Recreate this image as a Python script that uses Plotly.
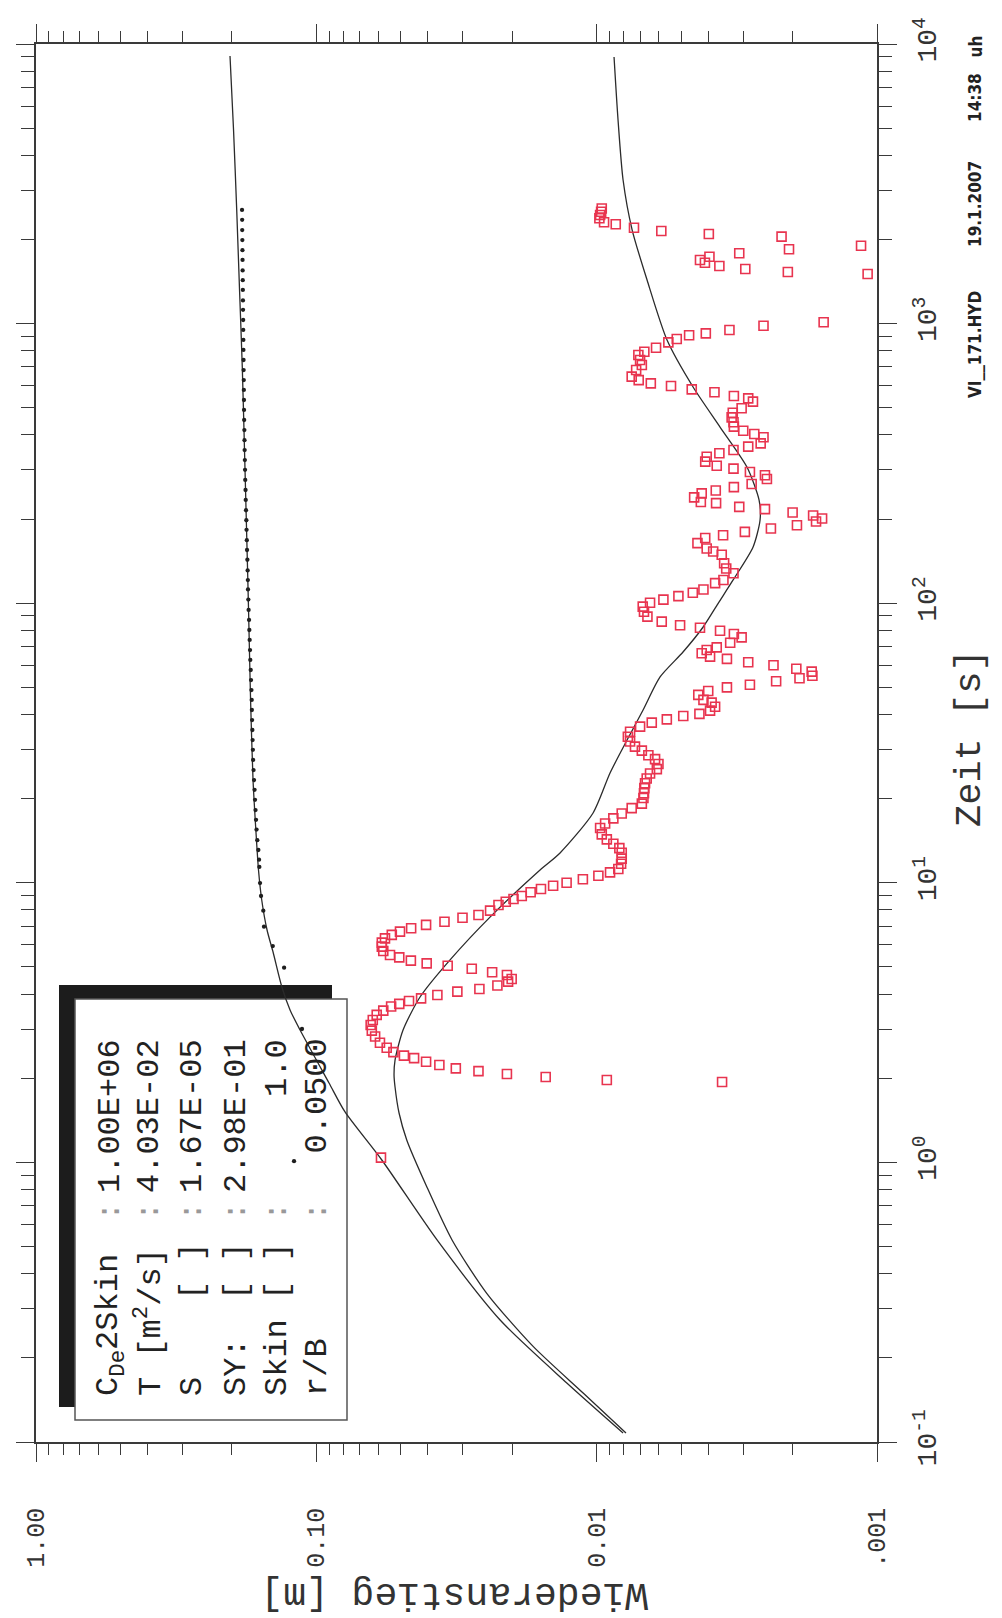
import plotly.graph_objects as go

# ---------------- data ----------------
# red squares: time [s] and Wiederanstieg [m]
red_t = [2581, 2512, 2446, 2381, 2303, 2265, 2203, 2144, 2091, 2046,
         1899, 1844, 1784, 1735, 1688, 1651, 1607, 1568, 1529, 1504,
         1011, 983, 949, 923, 908, 881, 857, 820, 793, 772,
         741, 711, 682, 646, 628, 611, 598, 582, 568, 551,
         540, 526, 498, 480, 462, 444, 428, 414, 403, 392,
         373, 363, 353, 344, 334, 321, 310, 303, 294.5, 287,
         278, 267, 260, 253, 247, 239, 230, 228, 221, 217,
         211, 206, 201, 196, 190, 185, 180, 175, 171, 164,
         157, 153, 149, 139, 133, 128, 121, 118, 112, 109,
         106, 103, 100.4, 97.2, 93.2, 89.5, 85.9, 83.4, 81.7, 79.7,
         77.6, 75.5, 72.2, 69.5, 68.0, 66.2, 64.4, 63.2, 61.5, 60.0,
         58.3, 56.9, 55.0, 53.9, 52.6, 51.1, 50.0, 48.5, 47.0, 45.1,
         44.1, 42.6, 41.3, 40.2, 39.5, 38.4, 37.4, 36.2, 34.7, 33.3,
         32.0, 30.7, 29.7, 28.6, 27.7, 26.6, 25.5, 24.6, 23.6, 22.7,
         21.8, 20.9, 20.1, 19.2, 18.5, 17.7, 17.0, 16.3, 15.7, 14.9,
         14.3, 13.8, 13.3, 12.8, 12.2, 11.7, 11.2, 10.9, 10.6, 10.3,
         10.0, 9.76, 9.50, 9.25, 8.97, 8.75, 8.56, 8.33, 7.95, 7.67,
         7.50, 7.26, 7.07, 6.88, 6.69, 6.51, 6.33, 6.11, 5.91, 5.70,
         5.52, 5.41, 5.27, 5.15, 5.05, 4.93, 4.79, 4.68, 4.53, 4.43,
         4.29, 4.17, 4.08, 3.97, 3.86, 3.78, 3.69, 3.61, 3.49, 3.37,
         3.23, 3.10, 2.96, 2.82, 2.68, 2.57, 2.48, 2.41, 2.36, 2.29,
         2.23, 2.17, 2.12, 2.07, 2.02, 1.97, 1.94, 1.04]
red_v = [0.00959, 0.00964, 0.00972, 0.00978, 0.00941, 0.00855, 0.00736, 0.00588, 0.00398, 0.00219,
         0.00114, 0.00206, 0.00310, 0.00396, 0.00428, 0.00411, 0.00365, 0.00295, 0.00208, 0.00108,
         0.00155, 0.00254, 0.00336, 0.00408, 0.00468, 0.00518, 0.00555, 0.00614, 0.00676, 0.00710,
         0.00700, 0.00690, 0.00723, 0.00750, 0.00708, 0.00641, 0.00543, 0.00458, 0.00380, 0.00324,
         0.00288, 0.00277, 0.00304, 0.00327, 0.00330, 0.00325, 0.00324, 0.00300, 0.00274, 0.00254,
         0.00260, 0.00288, 0.00325, 0.00365, 0.00405, 0.00410, 0.00373, 0.00325, 0.00284, 0.00251,
         0.00247, 0.00280, 0.00324, 0.00376, 0.00422, 0.00449, 0.00425, 0.00375, 0.00310, 0.00251,
         0.00200, 0.00169, 0.00157, 0.00165, 0.00193, 0.00239, 0.00296, 0.00354, 0.00410, 0.00437,
         0.00405, 0.00384, 0.00358, 0.00351, 0.00345, 0.00325, 0.00353, 0.00378, 0.00416, 0.00454,
         0.00511, 0.00578, 0.00645, 0.00685, 0.00678, 0.00659, 0.00586, 0.00504, 0.00428, 0.00363,
         0.00324, 0.00304, 0.00334, 0.00373, 0.00405, 0.00422, 0.00394, 0.00343, 0.00288, 0.00234,
         0.00194, 0.00171, 0.00170, 0.00189, 0.00229, 0.00284, 0.00343, 0.00400, 0.00434, 0.00416,
         0.00389, 0.00378, 0.00394, 0.00430, 0.00491, 0.00562, 0.00636, 0.00700, 0.00760, 0.00774,
         0.00760, 0.00730, 0.00690, 0.00654, 0.00619, 0.00602, 0.00610, 0.00645, 0.00663, 0.00672,
         0.00676, 0.00678, 0.00681, 0.00690, 0.00750, 0.00814, 0.00872, 0.00933, 0.00972, 0.00959,
         0.00920, 0.00872, 0.00830, 0.00814, 0.00814, 0.00818, 0.00837, 0.00896, 0.00986, 0.0112,
         0.0128, 0.0143, 0.0158, 0.0172, 0.0185, 0.0198, 0.0211, 0.0224, 0.0240, 0.0264,
         0.0301, 0.0349, 0.0406, 0.0459, 0.0503, 0.0538, 0.0569, 0.0584, 0.0584, 0.0577,
         0.0546, 0.0506, 0.0460, 0.0404, 0.0340, 0.0279, 0.0236, 0.0209, 0.0201, 0.0207,
         0.0226, 0.0262, 0.0314, 0.0370, 0.0423, 0.0467, 0.0506, 0.0541, 0.0577, 0.0609,
         0.0629, 0.0640, 0.0634, 0.0617, 0.0593, 0.0561, 0.0531, 0.0487, 0.0448, 0.0406,
         0.0364, 0.0318, 0.0264, 0.0209, 0.0152, 0.0092, 0.00357, 0.0588]

# black dots
dot_t = [2550, 2350, 2160, 1990, 1830, 1690, 1550, 1430, 1320, 1210,
         1120, 1030, 949, 874, 805, 741, 682, 628, 579, 533,
         491, 452, 416, 383, 353, 325, 300, 276, 254, 234,
         215, 198, 183, 168, 155, 143, 131, 121, 112, 103,
         94.6, 87.1, 80.2, 73.9, 68.0, 62.7, 57.7, 53.1, 48.9, 45.1,
         41.5, 38.2, 35.2, 32.4, 29.9, 27.5, 25.3, 23.3, 21.5, 19.8,
         18.2, 16.8, 15.5, 14.2, 13.1, 12.1, 11.4, 9.98, 8.97, 7.95,
         6.97, 5.94, 4.97, 3.00, 1.01]
dot_v = [0.1841, 0.1839, 0.1838, 0.1836, 0.1835, 0.1833, 0.1832, 0.1830, 0.1829, 0.1827,
         0.1826, 0.1824, 0.1823, 0.1821, 0.1820, 0.1818, 0.1817, 0.1815, 0.1814, 0.1812,
         0.1811, 0.1809, 0.1806, 0.1804, 0.1802, 0.1799, 0.1796, 0.1793, 0.1789, 0.1786,
         0.1782, 0.1777, 0.1774, 0.1770, 0.1767, 0.1762, 0.1758, 0.1755, 0.1753, 0.1748,
         0.1744, 0.1738, 0.1734, 0.1729, 0.1724, 0.1720, 0.1714, 0.1710, 0.1704, 0.1700,
         0.1698, 0.1695, 0.1691, 0.1688, 0.1684, 0.1681, 0.1675, 0.1668, 0.1661, 0.1655,
         0.1648, 0.1641, 0.1634, 0.1624, 0.1610, 0.1601, 0.1597, 0.1588, 0.1575, 0.1546,
         0.1537, 0.1430, 0.1303, 0.1125, 0.1201]

# fitted curves
curveA_t = [9060, 4925, 2549, 1319, 699, 353, 172.5, 94.6, 45.8, 23.3, 15.07, 11.11, 8.68,
            6.78, 5.61, 4.25, 3.51, 2.975, 1.923, 1.515, 1.02, 0.528, 0.273, 0.1626, 0.1077]
curveA_v = [0.2032, 0.1974, 0.1923, 0.1879, 0.1837, 0.1804, 0.1771, 0.1745, 0.1717, 0.1682, 0.1641,
            0.1608, 0.1566, 0.1499, 0.1424, 0.1328, 0.1241, 0.1143, 0.0901, 0.0790, 0.0584, 0.0371,
            0.0221, 0.01278, 0.00805]
curveB_t = [8984, 5349, 3263, 2161, 1432, 873.6, 593.2, 426.7, 306.9, 233.9, 198.4, 158.9,
            121.1, 99.7, 82.2, 66.9, 54.5, 41.5, 32.4, 24.7, 17.77, 12.79, 11.11, 7.54, 5.30, 3.904,
            2.975, 2.323, 2.054, 1.860, 1.502, 1.203, 0.8187, 0.528, 0.3402, 0.2193, 0.1494, 0.1077]
curveB_v = [0.00867, 0.00839, 0.00805, 0.00747, 0.00661, 0.00561, 0.00453, 0.00363, 0.00291,
            0.002634, 0.002613, 0.002767, 0.00326, 0.00369, 0.00417, 0.00492, 0.00594,
            0.00683, 0.00779, 0.00896, 0.0103, 0.01351, 0.01592, 0.02401, 0.03334, 0.04266,
            0.04905, 0.05239, 0.05282, 0.05239, 0.05069, 0.04759, 0.04037, 0.0328, 0.02467,
            0.01682, 0.01115, 0.00786]

x_tickvals = [1.0, 0.1, 0.01, 0.001]
x_ticktext = ["1.00", "0.10", "0.01", ".001"]
y_tickvals = [0.1, 1, 10, 100, 1000, 10000]
y_ticktext = ["10<sup>-1</sup>", "10<sup>0</sup>", "10<sup>1</sup>",
              "10<sup>2</sup>", "10<sup>3</sup>", "10<sup>4</sup>"]

param_labels = ["C<sub>De</sub>2Skin", "T [m<sup>2</sup>/s]", "S\u00a0\u00a0\u00a0\u00a0[\u00a0]",
                "SY:\u00a0\u00a0[\u00a0]", "Skin\u00a0[\u00a0]", "r/B"]
param_values = ["1.00E+06", "4.03E-02", "1.67E-05", "2.98E-01", "1.0", "0.0500"]

x_minor = [m * 10.0 ** e for e in (-3, -2, -1) for m in range(2, 10)]
y_minor = [m * 10.0 ** e for e in (-1, 0, 1, 2, 3) for m in range(2, 10)]

# ---------------- figure ----------------
W, H = 1002, 1618
L, R, T, B = 36, 877, 44, 1442


def px(x):
    return (x - L) / (R - L)


def py(y):
    return 1 - (y - T) / (B - T)


AX = "#3a3a3a"
MONO = "Liberation Mono, DejaVu Sans Mono, monospace"
RED = "#e8344f"

fig = go.Figure()
fig.add_trace(go.Scatter(x=curveA_v, y=curveA_t, mode="lines",
                         line=dict(color="#2b2b2b", width=1.3, shape="spline", smoothing=0.7),
                         hoverinfo="skip"))
fig.add_trace(go.Scatter(x=curveB_v, y=curveB_t, mode="lines",
                         line=dict(color="#2b2b2b", width=1.3, shape="spline", smoothing=0.7),
                         hoverinfo="skip"))
fig.add_trace(go.Scatter(x=dot_v, y=dot_t, mode="markers",
                         marker=dict(color="#1e1e1e", size=4.3)))
fig.add_trace(go.Scatter(x=red_v, y=red_t, mode="markers",
                         marker=dict(symbol="square-open", color=RED, size=9,
                                     line=dict(color=RED, width=1.6))))

axis_common = dict(type="log", showline=True, linecolor=AX, linewidth=1.5, mirror="ticks",
                   ticks="outside", ticklen=18, tickwidth=1.3, tickcolor=AX,
                   showgrid=False, zeroline=False)

fig.update_xaxes(range=[0, -3], tickvals=x_tickvals, ticktext=x_ticktext, tickangle=-90,
                 tickfont=dict(family=MONO, size=25, color="#333333"), ticklabelstandoff=36,
                 minor=dict(tickvals=x_minor, ticks="outside", ticklen=11, tickwidth=1.2,
                            tickcolor=AX, showgrid=False),
                 **axis_common)
fig.update_yaxes(range=[-1, 4], side="right", tickvals=y_tickvals, ticktext=y_ticktext,
                 tickangle=-90, tickfont=dict(family=MONO, size=28, color="#333333"),
                 ticklabelstandoff=6,
                 minor=dict(tickvals=y_minor, ticks="outside", ticklen=13, tickwidth=1.2,
                            tickcolor=AX, showgrid=False),
                 **axis_common)

shapes = [
    dict(type="rect", xref="paper", yref="paper", x0=px(59), x1=px(332), y0=py(1407), y1=py(985),
         fillcolor="#1c1c1c", line=dict(width=0), layer="below"),
    dict(type="rect", xref="paper", yref="paper", x0=px(75), x1=px(347), y0=py(1420), y1=py(999),
         fillcolor="white", line=dict(color="#555555", width=1.5), layer="below"),
]

ann = []
col_x = [110, 149, 192, 236, 277, 317]
for i, (lab, val) in enumerate(zip(param_labels, param_values)):
    ann.append(dict(text=lab, x=px(col_x[i]), y=py(1398), xref="paper", yref="paper",
                    xanchor="center", yanchor="bottom", textangle=-90, showarrow=False,
                    font=dict(family=MONO, size=32, color="#222222")))
    ann.append(dict(text=":", x=px(col_x[i]), y=py(1212), xref="paper", yref="paper",
                    xanchor="center", yanchor="middle", textangle=-90, showarrow=False,
                    font=dict(family=MONO, size=32, color="#999999")))
    ann.append(dict(text=val, x=px(col_x[i]), y=py(1037), xref="paper", yref="paper",
                    xanchor="center", yanchor="top", textangle=-90, showarrow=False,
                    font=dict(family=MONO, size=32, color="#222222")))

ann.append(dict(text="Zeit [s]", x=px(970), y=py(738), xref="paper", yref="paper",
                xanchor="center", yanchor="middle", textangle=-90, showarrow=False,
                font=dict(family=MONO, size=37, color="#333333")))
ann.append(dict(text="Wiederanstieg [m]", x=px(454), y=py(1594), xref="paper", yref="paper",
                xanchor="center", yanchor="middle", textangle=180, showarrow=False,
                font=dict(family=MONO, size=38, color="#333333")))

NARROW = "Liberation Sans Narrow, DejaVu Sans Condensed, Liberation Sans, sans-serif"
for txt, yc in [("uh", 46.5), ("14:38", 98), ("19.1.2007", 204), ("VI__171.HYD", 345)]:
    ann.append(dict(text="<b>" + txt + "</b>", x=px(975), y=py(yc), xref="paper", yref="paper",
                    xanchor="center", yanchor="middle", textangle=-90, showarrow=False,
                    font=dict(family=NARROW, size=17, color="#222222")))

fig.update_layout(width=W, height=H, margin=dict(l=L, r=W - R, t=T, b=H - B),
                  plot_bgcolor="white", paper_bgcolor="white", showlegend=False,
                  shapes=shapes, annotations=ann)

fig.write_html("out.html")
